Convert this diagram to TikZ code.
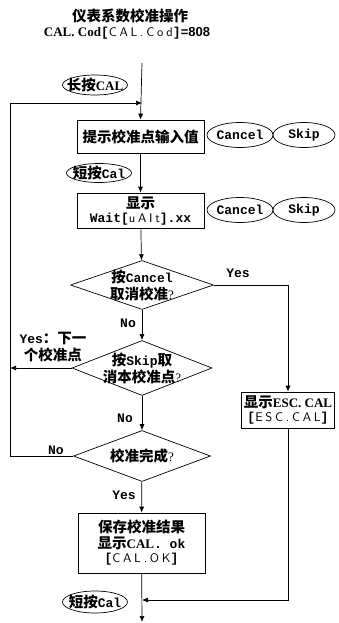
\documentclass[tikz,border=0pt]{standalone}
\usepackage{fontspec}
\setmainfont{Liberation Mono}
\newfontfamily\cjk{Noto Sans CJK SC}
\newfontfamily\rmb{Liberation Serif}
\newfontfamily\sfb{Liberation Sans}
\newfontfamily\seg{lmsans10-regular.otf}[LetterSpace=22,BoldFont=lmsans10-regular.otf]
\usetikzlibrary{shapes.geometric,arrows.meta}
\newcommand\zh[1]{{\cjk\fontsize{14.5}{17}\selectfont #1}}
\newcommand\sg[1]{{\seg\mdseries\fontsize{12.5}{14}\selectfont #1}}
\tikzset{
  box/.style={draw, rectangle, inner sep=1pt, align=center},
  ell/.style={draw, ellipse, inner sep=0pt},
  dia/.style={draw, diamond, inner sep=0pt},
  lab/.style={inner sep=0pt, align=center},
}
\begin{document}
\begin{tikzpicture}[x=1pt,y=-1pt, font=\fontsize{13}{17}\selectfont\bfseries, line width=0.7pt, >={Latex[length=6pt,width=5pt]}]
\useasboundingbox (0,0) rectangle (338,623);
\node[lab] (t1) at (130,16) {\zh{仪表系数校准操作}};
\node[lab] (t2) at (127,33) {{\rmb CAL. Cod}[\sg{CAL.Cod}]{\sfb =808}};
\coordinate (top) at (142,63);
\node[ell, minimum width=65, minimum height=20] (lp) at (95,85) {};
\node[lab] (lpt) at (lp) {\zh{长按}{\rmb CAL}};
\coordinate (j1) at (142,103);
\coordinate (lx) at (10,103);
\node[box, minimum width=127, minimum height=33] (b1) at (140.5,136.5) {\zh{提示校准点输入值}};
\node[ell, minimum width=66, minimum height=25] (c1) at (240,135) {};
\node[lab] (c1t) at (c1) {Cancel};
\node[ell, minimum width=62, minimum height=25] (s1) at (304,135) {};
\node[lab] (s1t) at (s1) {Skip};
\node[ell, minimum width=65, minimum height=19] (sp1) at (99,173) {};
\node[lab] (sp1t) at (sp1) {\zh{短按}Cal};
\node[box, minimum width=127, minimum height=35] (b2) at (140.5,210.5) {\zh{显示}\\[-3pt]Wait[\sg{uAIt}].xx};
\node[ell, minimum width=66, minimum height=25] (c2) at (240,210) {};
\node[lab] (c2t) at (c2) {Cancel};
\node[ell, minimum width=62, minimum height=25] (s2) at (304,210) {};
\node[lab] (s2t) at (s2) {Skip};
\node[dia, minimum width=143, minimum height=49] (d1) at (142,285) {};
\node[lab] (d1t) at (d1) {\zh{按}Cancel\\\zh{取消校准}{\rmb\mdseries ?}};
\node[dia, minimum width=140, minimum height=55] (d2) at (142,368) {};
\node[lab] (d2t) at (d2) {\zh{按}Skip\zh{取}\\\zh{消本校准点}{\rmb\mdseries ?}};
\node[dia, minimum width=137, minimum height=51] (d3) at (142,456) {};
\node[lab] (d3t) at (d3) {\zh{校准完成}{\rmb\mdseries ?}};
\node[box, minimum width=93, minimum height=36] (esc) at (288,410) {\zh{显示}{\rmb ESC. CAL}\\[-3pt][\sg{ESC.CAL}]};
\node[box, minimum width=127, minimum height=60] (b3) at (141.5,543) {\zh{保存校准结果}\\[-1pt]\zh{显示}{\rmb CAL}. ok\\[-3pt][\sg{CAL.OK}]};
\node[ell, minimum width=65, minimum height=22] (sp2) at (95,602) {};
\node[lab] (sp2t) at (sp2) {\zh{短按}Cal};
\coordinate (j2) at (142,600);
\coordinate (bot) at (142,622);
\node[lab] (y1) at (238,273) {Yes};
\node[lab] (n1) at (128,323) {No};
\node[lab] (y2) at (53,347) {Yes\zh{：下一}\\\zh{个校准点}};
\node[lab] (n2) at (125,418) {No};
\node[lab] (n3) at (56,450) {No};
\node[lab] (y3) at (124,495) {Yes};
\draw[->] (top) -- (b1.north);
\draw[->] (b1) -- (b2);
\draw[->] (b2) -- (d1);
\draw[->] (d1) -- (d2);
\draw[->] (d2) -- (d3);
\draw[->] (d3) -- (b3);
\draw[->] (b3) -- (bot);
\draw[->] (d3.west) -| (lx) -- (j1);
\draw[->] (d2.west) -- (d2.west -| lx);
\draw[->] (d1.east) -| (esc.north);
\draw[->] (esc.south) |- (j2);
\end{tikzpicture}
\end{document}
